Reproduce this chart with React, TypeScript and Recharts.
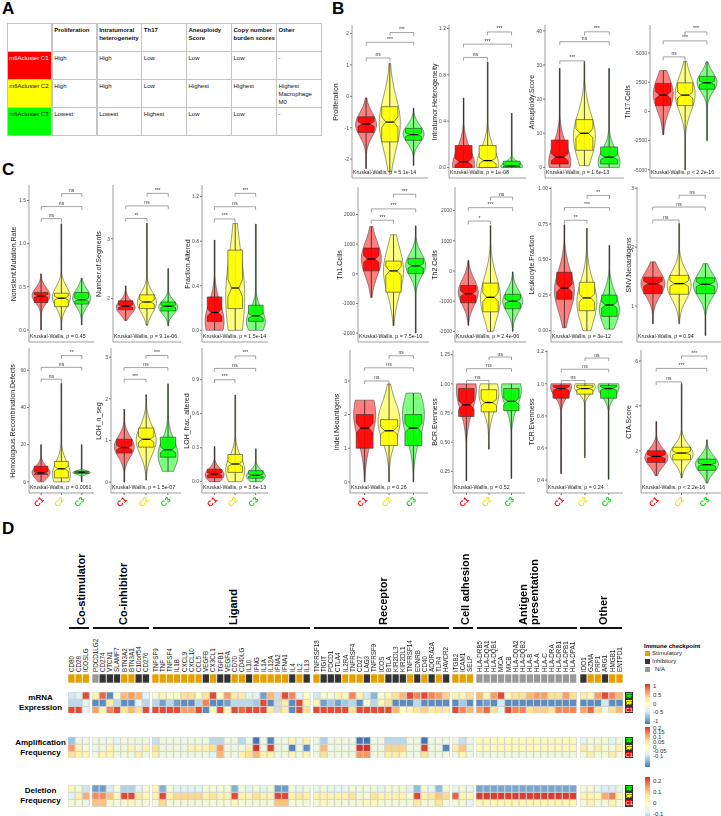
import React from 'react';
import { ComposedChart, BarChart, Bar, XAxis, YAxis, ReferenceLine, Cell } from 'recharts';

const FONT = '"Liberation Sans", Arial, Helvetica, sans-serif';

// ---------- panel A ----------
const tableHeader = ['Proliferation', 'Intratumoral\nheterogeneity', 'Th17', 'Aneuploidy\nScore', 'Copy number\nburden scores', 'Other'];
const tableC1 = ['m6Acluster C1', 'High', 'High', 'Low', 'Low', 'Low', '-'];
const tableC2 = ['m6Acluster C2', 'High', 'High', 'Low', 'Highest', 'Highest', 'Highest\nMacrophage\nM0'];
const tableC3 = ['m6Acluster C3', 'Lowest', 'Lowest', 'Highest', 'Low', 'Low', '-'];

// ---------- panels B / C ----------
const clusters = ['C1', 'C2', 'C3'];
const clusterFill = ['#FF0000', '#FFFF00', '#00FF00'];
const clusterText = ['#FF0000', '#E8E800', '#00DD00'];
const pairs = [['C1', 'C2'], ['C1', 'C3'], ['C2', 'C3']];

// per cluster: [min, q1, median, q3, max, mode]
const proliferation = [[-2.3, -1.15, -0.88, -0.65, -0.05, -0.9], [-2.4, -1.45, -0.82, -0.33, 1.05, -0.85], [-2.2, -1.4, -1.22, -1.02, -0.38, -1.2]];
const heterogeneity = [[0, 0, 0.05, 0.19, 0.6, 0.02], [0, 0, 0.06, 0.19, 0.91, 0.02], [0, 0.005, 0.015, 0.055, 0.47, 0.01]];
const aneuploidy = [[0, 1, 3, 8, 29, 1.5], [0.5, 5, 10, 14, 31, 9], [0, 1, 3, 6, 29, 1.5]];
const th17 = [[-2000, 500, 1400, 2400, 3500, 1500], [-5000, 500, 1400, 2450, 4300, 1500], [-2500, 1900, 2450, 3000, 4250, 2500]];
const th1 = [[-800, 100, 500, 870, 1600, 500], [-1750, -620, 100, 430, 1320, 100], [-2000, 10, 270, 520, 1620, 300]];
const th2 = [[-1800, -1050, -750, -480, 350, -700], [-2000, -1350, -870, -400, 1500, -900], [-2000, -1250, -1000, -770, -30, -1000]];
const leukocyte = [[0.02, 0.22, 0.3, 0.41, 0.745, 0.28], [0, 0.14, 0.23, 0.34, 0.72, 0.2], [0.01, 0.1, 0.18, 0.25, 0.6, 0.15]];
const snvNeo = [[0.7, 1.21, 1.38, 1.49, 1.75, 1.38], [0.7, 1.2, 1.38, 1.52, 2.4, 1.35], [0.5, 1.21, 1.37, 1.48, 1.72, 1.35]];
const indelNeo = [[0, 1, 1.6, 2, 2.43, 2], [0, 1.08, 1.52, 1.85, 2.91, 1.8], [0, 1.08, 1.6, 2, 2.64, 2]];
const bcrEven = [[0.17, 0.72, 0.82, 0.96, 1, 0.95], [0.44, 0.76, 0.84, 0.95, 1, 0.92], [0.19, 0.77, 0.85, 0.96, 1, 0.95]];
const tcrEven = [[0.44, 0.91, 0.97, 0.99, 1, 0.98], [0.54, 0.935, 0.97, 0.99, 1, 0.98], [0.405, 0.91, 0.97, 0.99, 1, 0.98]];
const ctaScore = [[0.89, 1.48, 1.75, 2, 3.3, 1.7], [0.79, 1.6, 1.9, 2.16, 5, 1.85], [0.56, 1.13, 1.38, 1.63, 2.49, 1.4]];
const nonsilent = [[0, 0.318, 0.395, 0.434, 0.65, 0.4], [0, 0.27, 0.368, 0.426, 1.23, 0.38], [0.058, 0.3, 0.35, 0.434, 0.6, 0.37]];
const segments = [[1.63, 1.81, 1.87, 1.96, 2.21, 1.85], [1.55, 1.83, 1.94, 2.06, 3.26, 1.93], [1.54, 1.79, 1.87, 1.94, 2.5, 1.85]];
const fractionAltered = [[0, 0.08, 0.16, 0.3, 0.81, 0.08], [0, 0.195, 0.38, 0.72, 0.96, 0.3], [0, 0.08, 0.13, 0.225, 0.954, 0.08]];
const hrd = [[0, 3.9, 4.8, 8.4, 20, 5], [0, 2.1, 7, 11, 53, 4], [0, 4.5, 5.2, 5.7, 20, 5]];
const lohSeg = [[0, 0.7, 0.83, 1.03, 1.75, 0.85], [0.05, 0.84, 1.03, 1.3, 2.1, 1], [0.26, 0.6, 0.78, 1.08, 2.36, 0.65]];
const lohFrac = [[0, 0.035, 0.068, 0.11, 0.31, 0.06], [0, 0.082, 0.156, 0.24, 0.765, 0.1], [0, 0.03, 0.056, 0.097, 0.29, 0.05]];

// pairwise tests C1-C2, C1-C3, C2-C3
const proliferationSig = ['ns', '***', '***'];
const heterogeneitySig = ['ns', '***', '***'];
const aneuploidySig = ['***', 'ns', '***'];
const th17Sig = ['ns', '***', '***'];
const th1Sig = ['***', '***', '***'];
const th2Sig = ['*', '***', 'ns'];
const leukocyteSig = ['**', '***', '**'];
const snvSig = ['ns', 'ns', 'ns'];
const indelSig = ['ns', 'ns', 'ns'];
const bcrSig = ['ns', 'ns', 'ns'];
const tcrSig = ['ns', 'ns', 'ns'];
const ctaSig = ['ns', '***', '***'];
const nonsilentSig = ['ns', 'ns', 'ns'];
const segmentsSig = ['**', 'ns', '***'];
const fractionSig = ['***', 'ns', '***'];
const hrdSig = ['ns', 'ns', '**'];
const lohSegSig = ['***', 'ns', '***'];
const lohFracSig = ['***', 'ns', '***'];

const violinPanels = [
  { title: 'Proliferation', stats: proliferation, sig: proliferationSig, p: 'p = 5.1e-14', domain: [-2.6, 2.27], ticks: [-2, -1, 0, 1, 2], digits: 0, bracketY: [1.22, 1.72, 2.03], box: [352, 428, 25, 178], labelX: 336, xLabels: false },
  { title: 'Intratumor.Heterogeneity', stats: heterogeneity, sig: heterogeneitySig, p: 'p = 1e-08', domain: [-0.09, 1.23], ticks: [0, 0.4, 0.8, 1.2], digits: 1, bracketY: [0.95, 1.065, 1.17], box: [449, 526, 25, 178], labelX: 435, xLabels: false },
  { title: 'Aneuploidy.Score', stats: aneuploidy, sig: aneuploidySig, p: 'p = 1.6e-13', domain: [-3.1, 41.7], ticks: [0, 10, 20, 30, 40], digits: 0, bracketY: [31.2, 36.8, 39.7], box: [545, 624, 25, 178], labelX: 532, xLabels: false },
  { title: 'Th17.Cells', stats: th17, sig: th17Sig, p: 'p < 2.2e-16', domain: [-5700, 7400], ticks: [-5000, -2500, 0, 2500, 5000], digits: 0, bracketY: [4672, 6040, 6809], box: [650, 720, 25, 178], labelX: 628, xLabels: false },
  { title: 'Th1.Cells', stats: th1, sig: th1Sig, p: 'p = 7.5e-10', domain: [-2300, 2930], ticks: [-2000, -1000, 0, 1000, 2000], digits: 0, bracketY: [1809, 2191, 2685], box: [358, 429, 187, 342], labelX: 340, xLabels: false },
  { title: 'Th2.Cells', stats: th2, sig: th2Sig, p: 'p = 2.4e-06', domain: [-2350, 2780], ticks: [-2000, -1000, 0, 1000, 2000], digits: 0, bracketY: [1654, 2095, 2448], box: [455, 526, 187, 342], labelX: 435, xLabels: false },
  { title: 'Leukocyte.Fraction', stats: leukocyte, sig: leukocyteSig, p: 'p = 3e-12', domain: [-0.08, 1.01], ticks: [0, 0.25, 0.5, 0.75, 1], digits: 2, bracketY: [0.776, 0.865, 0.95], box: [551, 623, 187, 342], labelX: 532, xLabels: false },
  { title: 'SNV.Neoantigens', stats: snvNeo, sig: snvSig, p: 'p = 0.94', domain: [0.39, 3.02], ticks: [1, 2, 3], digits: 0, bracketY: [2.46, 2.68, 2.88], box: [637, 721, 187, 342], labelX: 629, xLabels: false },
  { title: 'Indel.Neoantigens', stats: indelNeo, sig: indelSig, p: 'p = 0.26', domain: [-0.33, 3.92], ticks: [0, 1, 2, 3], digits: 0, bracketY: [3.0, 3.39, 3.75], box: [350, 428, 350, 493], labelX: 337, xLabels: true },
  { title: 'BCR.Evenness', stats: bcrEven, sig: bcrSig, p: 'p = 0.52', domain: [0.065, 1.29], ticks: [0.25, 0.5, 0.75, 1, 1.25], digits: 2, bracketY: [1.03, 1.13, 1.23], box: [453, 525, 350, 493], labelX: 435, xLabels: true },
  { title: 'TCR.Evenness', stats: tcrEven, sig: tcrSig, p: 'p = 0.24', domain: [0.32, 1.21], ticks: [0.4, 0.6, 0.8, 1, 1.2], digits: 1, bracketY: [1.02, 1.09, 1.16], box: [547, 623, 350, 493], labelX: 532, xLabels: true },
  { title: 'CTA.Score', stats: ctaScore, sig: ctaSig, p: 'p < 2.2e-16', domain: [0.12, 6.49], ticks: [2, 4, 6], digits: 0, bracketY: [5.07, 5.67, 6.22], box: [641, 722, 350, 493], labelX: 629, xLabels: true },
  { title: 'Nonsilent.Mutation.Rate', stats: nonsilent, sig: nonsilentSig, p: 'p = 0.45', domain: [-0.14, 1.68], ticks: [0, 0.5, 1, 1.5], digits: 1, bracketY: [1.29, 1.43, 1.58], box: [29, 94, 185, 342], labelX: 14, xLabels: false },
  { title: 'Number.of.Segments', stats: segments, sig: segmentsSig, p: 'p = 9.1e-06', domain: [1.27, 3.9], ticks: [2, 3], digits: 0, bracketY: [3.34, 3.55, 3.76], box: [113, 181, 185, 342], labelX: 99, xLabels: false },
  { title: 'Fraction.Altered', stats: fractionAltered, sig: fractionSig, p: 'p = 1.5e-14', domain: [-0.105, 1.305], ticks: [0, 0.4, 0.8, 1.2], digits: 1, bracketY: [1.0, 1.11, 1.23], box: [202, 268, 185, 342], labelX: 188, xLabels: false },
  { title: 'Homologous.Recombination.Defects', stats: hrd, sig: hrdSig, p: 'p = 0.0061', domain: [-6, 72], ticks: [0, 20, 40, 60], digits: 0, bracketY: [55.2, 61.6, 67.9], box: [29, 94, 348, 493], labelX: 13, xLabels: true },
  { title: 'LOH_n_seg', stats: lohSeg, sig: lohSegSig, p: 'p = 1.5e-07', domain: [-0.26, 3.22], ticks: [0, 1, 2, 3], digits: 0, bracketY: [2.47, 2.75, 3.04], box: [111, 181, 348, 493], labelX: 99, xLabels: true },
  { title: 'LOH_frac_altered', stats: lohFrac, sig: lohFracSig, p: 'p = 3.6e-13', domain: [-0.1, 1.18], ticks: [0, 0.3, 0.6, 0.9], digits: 1, bracketY: [0.9, 1.0, 1.11], box: [202, 268, 348, 493], labelX: 187, xLabels: true },
];

// ---------- panel D ----------
const categoryNames = ['Co-stimulator', 'Co-inhibitor', 'Ligand', 'Receptor', 'Cell adhesion', 'Antigen\npresentation', 'Other'];
const costimGenes = ['CD80', 'CD28', 'ICOSLG'];
const coinhibGenes = ['PDCD1LG2', 'CD274', 'VTCN1', 'SLAMF7', 'BTN3A2', 'BTN3A1', 'C10orf54', 'CD276'];
const ligandGenes = ['TNFSF9', 'TNF', 'TNFSF4', 'IL1B', 'CXCL9', 'CXCL10', 'CCL5', 'VEGFB', 'CX3CL1', 'TGFB1', 'VEGFA', 'CD70', 'CD40LG', 'IL10', 'IFNG', 'IL1A', 'IL12A', 'IFNA2', 'IFNA1', 'IL4', 'IL2', 'IL13'];
const receptorGenes = ['TNFRSF18', 'TIGIT', 'PDCD1', 'CTLA4', 'IL2RA', 'TNFRSF4', 'CD27', 'LAG3', 'TNFRSF9', 'ICOS', 'BTLA', 'KIR2DL3', 'KIR2DL1', 'TNFRSF14', 'EDNRB', 'CD40', 'ADORA2A', 'TLR4', 'HAVCR2'];
const adhesionGenes = ['ITGB2', 'ICAM1', 'SELP'];
const antigenGenes = ['HLA-DRB5', 'HLA-DQA1', 'HLA-DQB1', 'MICA', 'MICB', 'HLA-DQA2', 'HLA-DQB2', 'HLA-B', 'HLA-A', 'HLA-C', 'HLA-DRA', 'HLA-DRB1', 'HLA-DPB1', 'HLA-DPA1'];
const otherGenes = ['IDO1', 'GZMA', 'PRF1', 'ARG1', 'HMGB1', 'ENTPD1'];
const categoryGenes = [costimGenes, coinhibGenes, ligandGenes, receptorGenes, adhesionGenes, antigenGenes, otherGenes];

// S = stimulatory, I = inhibitory, N = N/A
const geneRole = [
  'S', 'S', 'S',
  'N', 'I', 'I', 'I', 'S', 'S', 'I', 'I',
  'S', 'S', 'S', 'S', 'S', 'S', 'S', 'I', 'S', 'I', 'I', 'S', 'S', 'I', 'S', 'S', 'S', 'S', 'S', 'I', 'S', 'I',
  'S', 'I', 'I', 'I', 'S', 'S', 'S', 'I', 'S', 'S', 'I', 'I', 'I', 'S', 'I', 'S', 'I', 'S', 'I',
  'S', 'S', 'S',
  'N', 'N', 'N', 'N', 'N', 'N', 'N', 'N', 'N', 'N', 'N', 'N', 'N', 'N',
  'I', 'S', 'S', 'I', 'S', 'S',
];

const mrnaC1 = [
  0.9, 0.9, -0.3,
  0.6, 0.1, 0.7, 0.9, 0.3, 0.5, 0.3, 0.9,
  0.9, 0.9, 0.9, 0.9, 0.6, 0.6, 0.9, -0.9, 0.1, 0.9, 0.1, 0.9, 0.8, 0.9, 0.9, 0.9, 0.2, null, 0.2, -0.9, 0.9, 0.3,
  0.9, 0.9, 0.9, 0.9, 0.9, 0.3, 0.9, 0.9, 0.9, 0.9, 0.9, 0.5, 0.0, 0.1, 0.3, 0.4, 0.2, 0.3, 0.2,
  0.9, 0.7, 0.5,
  0.6, 0.8, 0.3, -0.2, 0.9, 0.7, 0.7, 0.3, 0.4, 0.4, 0.3, 0.7, 0.7, 0.7,
  0.6, 0.8, 0.3, -0.2, 0.3, 0.5,
];
const mrnaC2 = [
  -0.5, -0.5, -0.3,
  -0.9, -0.9, 0.2, -0.5, -0.9, -0.9, -0.3, -0.5,
  -0.5, -0.8, -0.5, -0.8, -0.9, -0.9, -0.5, 0.7, -0.9, -0.9, -0.8, -0.5, -0.5, -0.5, -0.6, 0.9, -0.9, null, 0.2, -0.9, 0.9, 0.1,
  0.1, -0.8, -0.6, -0.8, -0.6, -0.5, -0.9, -0.1, -0.5, 0.1, 0.3, -0.9, -0.9, -0.9, -0.5, -0.9, -0.9, -0.9, -0.9,
  -0.9, -0.6, -0.9,
  -0.9, -0.8, -0.9, -0.4, -0.9, -0.9, -0.9, -0.9, -0.9, -0.9, -0.9, -0.9, -0.9, -0.9,
  -0.9, -0.9, -0.9, -0.4, -0.9, -0.9,
];
const mrnaC3 = [
  -0.4, -0.3, 0.9,
  0.1, 0.8, -0.9, -0.1, 0.5, 0.6, 0.5, -0.3,
  -0.1, 0.1, 0.0, 0.0, 0.3, 0.3, 0.0, 0.3, 0.9, 0.0, 0.6, 0.2, 0.2, -0.3, -0.3, -0.8, 0.5, null, 0.9, 0.7, -0.3, 0.0,
  -0.4, -0.1, -0.1, 0.1, 0.1, 0.7, 0.1, -0.4, -0.7, -0.1, 0.1, 0.3, 0.5, 0.9, 0.7, 0.9, 0.7, 0.6, 0.4,
  0.1, 0.1, 0.3,
  0.5, 0.1, 0.6, 0.9, 0.1, 0.3, 0.3, 0.5, 0.6, 0.6, 0.3, 0.3, 0.6, 0.3,
  0.2, 0.1, 0.6, 0.9, 0.7, 0.5,
];

const ampC1 = [
  0.05, 0.02, 0.02,
  -0.03, 0.02, 0.02, -0.03, -0.03, -0.03, 0.03, -0.03,
  0.03, -0.03, -0.03, -0.03, -0.03, -0.03, -0.03, -0.03, -0.05, 0.08, -0.03, -0.03, 0.02, 0.05, 0.08, 0.02, 0.02, -0.03, -0.03, 0.02, -0.03, 0.02,
  -0.03, 0.05, -0.03, -0.03, -0.03, -0.03, 0.1, 0.1, -0.03, -0.03, 0.03, 0.03, 0.02, -0.03, -0.03, 0.05, -0.03, -0.03, -0.03,
  -0.03, 0.02, -0.03,
  -0.03, -0.03, -0.03, -0.03, -0.03, -0.03, -0.03, -0.03, -0.03, -0.03, -0.03, -0.03, -0.03, -0.03,
  -0.02, 0.03, -0.02, -0.02, 0.03, -0.02,
];
const ampC2 = [
  0.1, 0.02, -0.02,
  -0.03, -0.03, 0.02, -0.03, -0.03, 0.02, -0.03, 0.02,
  0.05, -0.03, -0.03, -0.03, -0.03, 0.02, 0.02, 0.02, 0.05, 0.1, -0.03, -0.03, -0.03, 0.02, 0.18, -0.03, 0.15, -0.03, -0.03, -0.15, -0.03, -0.14,
  -0.03, 0.08, -0.03, -0.03, -0.03, -0.03, 0.19, 0.19, -0.03, -0.03, 0.06, 0.06, 0.06, -0.03, -0.03, 0.15, -0.03, -0.03, -0.15,
  0.03, 0.07, -0.03,
  0.01, 0.01, 0.01, 0.01, 0.01, 0.01, 0.01, 0.01, 0.01, 0.01, 0.01, 0.01, 0.01, 0.01,
  0.03, -0.02, 0.03, -0.02, -0.02, 0.02,
];
const ampC3 = [
  -0.1, -0.03, -0.03,
  -0.03, -0.03, -0.03, -0.05, -0.03, -0.03, -0.03, -0.03,
  -0.07, -0.03, -0.03, -0.03, -0.03, -0.03, -0.03, -0.03, -0.08, -0.08, -0.03, -0.03, -0.08, -0.03, -0.17, -0.03, -0.15, -0.03, -0.03, 0.02, -0.03, 0.02,
  -0.03, -0.09, -0.03, -0.03, -0.03, -0.03, -0.18, -0.18, -0.03, -0.03, -0.08, -0.08, -0.08, -0.03, -0.03, -0.17, -0.03, -0.03, -0.03,
  -0.03, -0.07, -0.03,
  0.005, 0.005, 0.005, 0.005, 0.005, 0.005, 0.005, 0.005, 0.005, 0.005, 0.005, 0.005, 0.005, 0.005,
  -0.05, -0.02, -0.02, -0.02, -0.05, -0.02,
];

const delC1 = [
  -0.03, -0.03, -0.05,
  0.1, 0.1, -0.03, -0.03, -0.03, 0.02, -0.03, -0.03,
  -0.03, 0.08, -0.03, -0.03, -0.03, -0.03, -0.03, -0.03, -0.03, -0.03, -0.03, 0.02, -0.03, -0.03, -0.03, -0.03, -0.03, 0.1, 0.1, -0.03, -0.03, -0.03,
  -0.03, 0.02, -0.03, -0.03, -0.03, -0.03, -0.03, 0.02, 0.02, -0.03, -0.03, -0.03, -0.03, -0.03, 0.05, -0.03, -0.03, 0.06, -0.03,
  -0.03, -0.03, -0.06,
  0.02, 0.02, 0.02, 0.02, 0.02, 0.02, 0.02, 0.02, 0.02, 0.02, 0.02, 0.02, 0.02, 0.02,
  -0.03, 0.03, -0.03, -0.03, 0.03, -0.03,
];
const delC2 = [
  -0.07, 0.04, 0.12,
  0.15, 0.15, 0.1, 0.02, 0.2, 0.2, 0.05, 0.02,
  0.03, 0.2, 0.03, 0.08, 0.08, 0.08, 0.08, 0.03, 0.06, 0.03, 0.03, 0.2, 0.03, 0.03, 0.06, 0.03, 0.03, 0.2, 0.2, 0.03, 0.06, 0.03,
  0.03, 0.03, 0.03, 0.03, 0.03, 0.06, -0.02, -0.02, 0.06, 0.03, 0.03, 0.03, 0.03, -0.02, 0.2, 0.03, 0.06, 0.1, 0.08,
  0.18, 0.02, 0.02,
  0.21, 0.21, 0.21, 0.21, 0.21, 0.21, 0.21, 0.21, 0.21, 0.21, 0.21, 0.21, 0.21, 0.21,
  0.03, 0.03, 0.02, 0.12, 0.16, 0.03,
];
const delC3 = [
  0.02, -0.03, -0.09,
  -0.18, -0.18, -0.08, -0.03, -0.12, -0.12, -0.06, -0.03,
  0.02, -0.16, -0.03, -0.07, -0.07, -0.07, -0.07, -0.03, -0.03, -0.03, -0.03, -0.16, -0.03, -0.07, -0.03, -0.07, -0.03, -0.18, -0.18, -0.03, -0.06, -0.03,
  -0.06, -0.03, -0.06, -0.06, -0.06, -0.03, -0.03, -0.03, -0.03, -0.06, -0.03, -0.03, -0.03, -0.06, -0.15, -0.03, -0.06, -0.15, -0.03,
  -0.06, -0.03, -0.06,
  -0.17, -0.17, -0.17, -0.17, -0.17, -0.17, -0.17, -0.17, -0.17, -0.17, -0.17, -0.17, -0.17, -0.17,
  -0.03, -0.03, -0.06, -0.08, -0.08, -0.05,
];

const mrnaTicks = [1, 0.5, 0, -0.5, -1];
const ampTicks = [0.2, 0.15, 0.1, 0.05, 0, -0.05, -0.1];
const delTicks = [0.2, 0.1, 0, -0.1];

// ---------- colours ----------
const palette = ['#4575B4', '#91BFDB', '#E0F3F8', '#FFFFBF', '#FEE090', '#FC8D59', '#D73027'];
const roleColor: any = { S: '#E69F00', I: '#333333', N: '#999999' };

function hexToRgb(h: string) {
  return [parseInt(h.slice(1, 3), 16), parseInt(h.slice(3, 5), 16), parseInt(h.slice(5, 7), 16)];
}
function ramp(t: number) {
  const tt = Math.max(0, Math.min(1, t)) * 6;
  const i = Math.min(5, Math.floor(tt));
  const f = tt - i;
  const a = hexToRgb(palette[i]);
  const b = hexToRgb(palette[i + 1]);
  const c = a.map((v, k) => Math.round(v + (b[k] - v) * f));
  return `rgb(${c[0]},${c[1]},${c[2]})`;
}
const mrnaColor = (v: number | null) => (v == null ? '#D9D9D9' : ramp((v + 1) / 2));
const ampColor = (v: number | null) => (v == null ? '#D9D9D9' : ramp((v + 0.16) / 0.32));
const delColor = (v: number | null) => (v == null ? '#D9D9D9' : ramp((v + 0.22) / 0.44));

// ---------- violin charts ----------
const YW = 30;
const PT = 5;

function ViolinShape(props: any) {
  const { x, y, width, height, payload } = props;
  if (!payload || width == null || height == null) return null;
  const top = Math.min(y, y + height);
  const h = Math.abs(height);
  const { lo, q1, med, q3, hi, peak, color } = payload;
  const span = hi - lo || 1;
  const py = (v: number) => top + (h * (hi - v)) / span;
  const cx = x + width / 2;
  const W = width / 2;
  const s = Math.max((q3 - q1) / 1.35, span * 0.03);
  const N = 60;
  const rightPts: string[] = [];
  const leftPts: string[] = [];
  for (let i = 0; i <= N; i++) {
    const v = lo + (span * i) / N;
    const w = Math.max(0.4, W * Math.exp(-0.5 * ((v - peak) / s) ** 2));
    rightPts.push(`${cx + w},${py(v)}`);
    leftPts.unshift(`${cx - w},${py(v)}`);
  }
  const violin = `M${rightPts.join('L')}L${leftPts.join('L')}Z`;
  const bw = W * 0.77;
  const n = (q3 - q1) * 0.15;
  const nlo = Math.max(q1, med - n);
  const nhi = Math.min(q3, med + n);
  const box = `M${cx - bw},${py(q1)}L${cx + bw},${py(q1)}L${cx + bw},${py(nlo)}L${cx + bw * 0.5},${py(med)}L${cx + bw},${py(nhi)}L${cx + bw},${py(q3)}L${cx - bw},${py(q3)}L${cx - bw},${py(nhi)}L${cx - bw * 0.5},${py(med)}L${cx - bw},${py(nlo)}Z`;
  return (
    <g>
      <path d={violin} fill={color} fillOpacity={0.5} stroke="#333" strokeWidth={0.5} />
      <line x1={cx} x2={cx} y1={py(lo)} y2={py(hi)} stroke="#111" strokeWidth={0.7} />
      <path d={box} fill={color} fillOpacity={0.9} stroke="#333" strokeWidth={0.6} />
      <line x1={cx - bw * 0.5} x2={cx + bw * 0.5} y1={py(med)} y2={py(med)} stroke="#000" strokeWidth={1.3} />
    </g>
  );
}

const GroupTick = (props: any) => {
  const { x, y, payload } = props;
  const i = clusters.indexOf(payload.value);
  const ax = x + 3.2;
  const ay = y + 3.2;
  return (
    <text x={ax} y={ay} transform={`rotate(-45 ${ax} ${ay})`} textAnchor="end" fontSize={8} fontWeight="bold" fill={clusterText[i]} fontFamily={FONT}>
      {payload.value}
    </text>
  );
};

function ViolinChart({ cfg }: any) {
  const [l, r, t, b] = cfg.box;
  const plotW = r - l;
  const xh = cfg.xLabels ? 20 : 2;
  const pad = plotW * 0.03125;
  const data = clusters.map((c, i) => {
    const [lo, q1, med, q3, hi, peak] = cfg.stats[i];
    return { name: c, range: [lo, hi], lo, q1, med, q3, hi, peak, color: clusterFill[i] };
  });
  const drop = (cfg.domain[1] - cfg.domain[0]) * 0.022;
  const lineProps = { stroke: '#666', strokeWidth: 0.6, ifOverflow: 'visible' as const };
  return (
    <>
      <div style={{ position: 'absolute', left: l - YW, top: t - PT, willChange: 'transform' }}>
        <ComposedChart width={plotW + YW + 2} height={b - t + PT + xh} data={data} margin={{ top: PT, right: 2, bottom: 0, left: 0 }} barCategoryGap="5%">
          <XAxis dataKey="name" padding={{ left: pad, right: pad }} height={xh} interval={0} axisLine={{ stroke: '#777', strokeWidth: 0.7 }} tickLine={{ stroke: '#777' }} tickSize={2} tick={cfg.xLabels ? <GroupTick /> : false} />
          <YAxis width={YW} type="number" domain={cfg.domain} ticks={cfg.ticks} allowDataOverflow interval={0} tickSize={2} tickMargin={1} axisLine={{ stroke: '#777', strokeWidth: 0.7 }} tickLine={{ stroke: '#777' }} tick={{ fontSize: 5, fill: '#4D4D4D', fontFamily: FONT }} tickFormatter={(v: number) => v.toFixed(cfg.digits)} />
          <Bar dataKey="range" isAnimationActive={false} shape={(p: any) => <ViolinShape {...p} />} />
          {pairs.map(([a, c], j) => {
            const yv = cfg.bracketY[j];
            return [
              <ReferenceLine key={`h${j}`} segment={[{ x: a, y: yv }, { x: c, y: yv }]} {...lineProps} label={{ value: cfg.sig[j], position: 'top', fontSize: 5, fill: '#333', offset: 1.5, fontFamily: FONT }} />,
              <ReferenceLine key={`a${j}`} segment={[{ x: a, y: yv }, { x: a, y: yv - drop }]} {...lineProps} />,
              <ReferenceLine key={`c${j}`} segment={[{ x: c, y: yv }, { x: c, y: yv - drop }]} {...lineProps} />,
            ];
          })}
        </ComposedChart>
      </div>
      <div style={{ position: 'absolute', left: cfg.labelX, top: (t + b) / 2, transform: 'translate(-50%, -50%) rotate(-90deg)', whiteSpace: 'nowrap', fontSize: 7, color: '#222', lineHeight: '8px' }}>{cfg.title}</div>
      <div style={{ position: 'absolute', left: l + 1, top: b - 9.5, whiteSpace: 'nowrap', fontSize: 5.3, color: '#222', lineHeight: '6px' }}>{`Kruskal-Wallis, ${cfg.p}`}</div>
    </>
  );
}

// ---------- heatmap blocks ----------
const CELL = 7.2;
const GAP = 2.4;
const HX = 68.3;
const groupX: number[] = [];
const groupStart: number[] = [];
{
  let acc = HX;
  let idx = 0;
  categoryGenes.forEach((g) => {
    groupX.push(acc);
    groupStart.push(idx);
    acc += g.length * CELL + GAP;
    idx += g.length;
  });
}

function HeatBlock({ genes, rows, colorOf }: any) {
  const data = genes.map((g: string) => ({ gene: g, c1: 1, c2: 1, c3: 1 }));
  return (
    <BarChart width={genes.length * CELL} height={3 * CELL} data={data} margin={{ top: 0, right: 0, bottom: 0, left: 0 }} barCategoryGap={0} barGap={0}>
      <XAxis dataKey="gene" hide />
      <YAxis hide domain={[0, 3]} />
      {['c1', 'c2', 'c3'].map((k, r) => (
        <Bar key={k} dataKey={k} stackId="s" isAnimationActive={false} stroke="#CFCFCF" strokeWidth={0.8}>
          {data.map((d: any, i: number) => (
            <Cell key={i} fill={colorOf(rows[r][i])} />
          ))}
        </Bar>
      ))}
    </BarChart>
  );
}

const GeneTick = (props: any) => {
  const { x, y, payload } = props;
  return (
    <text transform={`translate(${x + 2.3},${y}) rotate(-90)`} fontSize={6.3} fill="#222" textAnchor="start" fontFamily={FONT}>
      {payload.value}
    </text>
  );
};

function RoleBlock({ genes, roles }: any) {
  const data = genes.map((g: string) => ({ gene: g, unit: 1 }));
  return (
    <BarChart width={genes.length * CELL} height={49} data={data} margin={{ top: 0, right: 0, bottom: 0, left: 0 }} barCategoryGap={0}>
      <XAxis dataKey="gene" orientation="top" height={40} interval={0} axisLine={false} tickLine={false} tickSize={0} tickMargin={2} tick={<GeneTick />} />
      <YAxis hide domain={[0, 1]} />
      <Bar dataKey="unit" isAnimationActive={false} stroke="#FFFFFF" strokeWidth={0.6}>
        {roles.map((r: string, i: number) => (
          <Cell key={i} fill={roleColor[r]} />
        ))}
      </Bar>
    </BarChart>
  );
}

const heatPanels = [
  { label: 'mRNA\nExpression', top: 691.7, rows: [mrnaC1, mrnaC2, mrnaC3], colorOf: mrnaColor },
  { label: 'Amplification\nFrequency', top: 736.7, rows: [ampC1, ampC2, ampC3], colorOf: ampColor },
  { label: 'Deletion\nFrequency', top: 785, rows: [delC1, delC2, delC3], colorOf: delColor },
];

const colorbars = [
  { ticks: mrnaTicks, zero: 704, perUnit: 17.5, half: 1.15 },
  { ticks: ampTicks, zero: 747, perUnit: 95, half: 0.21 },
  { ticks: delTicks, zero: 803, perUnit: 110, half: 0.24 },
];

function PanelLetter({ ch, x, y }: any) {
  return <div style={{ position: 'absolute', left: x, top: y, fontSize: 17, fontWeight: 'bold', lineHeight: '17px' }}>{ch}</div>;
}

const colEdges = [6.7, 51.7, 96.7, 141.3, 186, 231, 276, 320.7];
const rowEdges = [23.3, 51, 79.3, 107.3, 135.7];

export default function App() {
  const tableRows = [['', ...tableHeader], tableC1, tableC2, tableC3];
  return (
    <div style={{ position: 'absolute', left: 0, top: 0, width: 721, height: 816, overflow: 'hidden', background: '#fff', fontFamily: FONT, color: '#000' }}>
      <PanelLetter ch="A" x={2} y={0} />
      <PanelLetter ch="B" x={332} y={0} />
      <PanelLetter ch="C" x={2} y={161} />
      <PanelLetter ch="D" x={2} y={520} />

      {/* panel A table */}
      {tableRows.map((row, ri) =>
        row.map((txt, ci) => {
          const bg = ci === 0 && ri > 0 ? clusterFill[ri - 1] : '#fff';
          const fg = ci === 0 && ri === 1 ? '#fff' : '#111';
          return (
            <div key={`${ri}-${ci}`} style={{ position: 'absolute', left: colEdges[ci], top: rowEdges[ri], width: colEdges[ci + 1] - colEdges[ci] + 0.8, height: rowEdges[ri + 1] - rowEdges[ri] + 0.8, boxSizing: 'border-box', border: '0.8px solid #C4C4C4', background: bg, color: fg, fontSize: 6, lineHeight: '8px', padding: '2px 1.5px', whiteSpace: 'pre', fontWeight: ri === 0 ? 'bold' : 'normal', overflow: 'visible' }}>
              {txt}
            </div>
          );
        })
      )}

      {/* panels B and C */}
      {violinPanels.map((cfg, i) => (
        <ViolinChart key={i} cfg={cfg} />
      ))}

      {/* panel D: category headers */}
      {categoryNames.map((name, gi) => {
        const w = categoryGenes[gi].length * CELL;
        const cx = groupX[gi] + w / 2 + 2;
        const lines = name.split('\n').length;
        return (
          <React.Fragment key={name}>
            <div style={{ position: 'absolute', left: cx - (lines * 11) / 2, top: 625, transform: 'rotate(-90deg)', transformOrigin: 'left top', whiteSpace: 'pre', fontSize: 11, fontWeight: 'bold', lineHeight: '11px' }}>{name}</div>
            <div style={{ position: 'absolute', left: groupX[gi] + 0.5, top: 627.3, width: w - 1, height: 2, background: '#111' }} />
          </React.Fragment>
        );
      })}

      {/* gene labels and checkpoint role strip */}
      {categoryGenes.map((genes, gi) => (
        <div key={`role${gi}`} style={{ position: 'absolute', left: groupX[gi], top: 634 }}>
          <RoleBlock genes={genes} roles={geneRole.slice(groupStart[gi], groupStart[gi] + genes.length)} />
        </div>
      ))}

      {/* heatmaps */}
      {heatPanels.map((hp, pi) => (
        <React.Fragment key={`hp${pi}`}>
          <div style={{ position: 'absolute', left: 40.5, top: hp.top + 1.5 * CELL, transform: 'translate(-50%, -50%)', whiteSpace: 'pre', textAlign: 'center', fontSize: 8, fontWeight: 'bold', lineHeight: '10px' }}>{hp.label}</div>
          {categoryGenes.map((genes, gi) => {
            const s0 = groupStart[gi];
            return (
              <div key={`h${pi}-${gi}`} style={{ position: 'absolute', left: groupX[gi], top: hp.top }}>
                <HeatBlock genes={genes} rows={hp.rows.map((r) => r.slice(s0, s0 + genes.length))} colorOf={hp.colorOf} />
              </div>
            );
          })}
          {[2, 1, 0].map((ci, k) => (
            <div key={`cl${pi}-${ci}`} style={{ position: 'absolute', left: 624.5, top: hp.top + k * CELL, width: 8.5, height: CELL, boxSizing: 'border-box', border: '0.5px solid #333', background: clusterFill[ci], color: ci === 0 ? '#fff' : '#000', fontSize: 5.8, lineHeight: `${CELL - 1}px`, textAlign: 'center' }}>
              {clusters[ci]}
            </div>
          ))}
        </React.Fragment>
      ))}

      {/* legends */}
      <div style={{ position: 'absolute', left: 644, top: 643, fontSize: 6, fontWeight: 'bold', whiteSpace: 'nowrap', lineHeight: '7px' }}>Immune checkpoint</div>
      {[['S', 'Stimulatory'], ['I', 'Inhibitory'], ['N', 'N/A']].map(([k, name], i) => (
        <React.Fragment key={k}>
          <div style={{ position: 'absolute', left: 645, top: 651 + i * 8, width: 5, height: 5, background: roleColor[k] }} />
          <div style={{ position: 'absolute', left: k === 'N' ? 655 : 652, top: 650 + i * 8, fontSize: 6, lineHeight: '7px', whiteSpace: 'nowrap', color: '#222' }}>{name}</div>
        </React.Fragment>
      ))}
      {colorbars.map((cb, i) => (
        <React.Fragment key={`cb${i}`}>
          <div style={{ position: 'absolute', left: 645, top: cb.zero - cb.half * cb.perUnit, width: 5, height: 2 * cb.half * cb.perUnit, background: `linear-gradient(to bottom, ${[...palette].reverse().join(',')})` }} />
          {cb.ticks.map((t) => (
            <div key={t} style={{ position: 'absolute', left: 653, top: cb.zero - t * cb.perUnit - 3.5, fontSize: 6, lineHeight: '7px', color: '#333', whiteSpace: 'nowrap' }}>{String(t)}</div>
          ))}
        </React.Fragment>
      ))}
    </div>
  );
}
